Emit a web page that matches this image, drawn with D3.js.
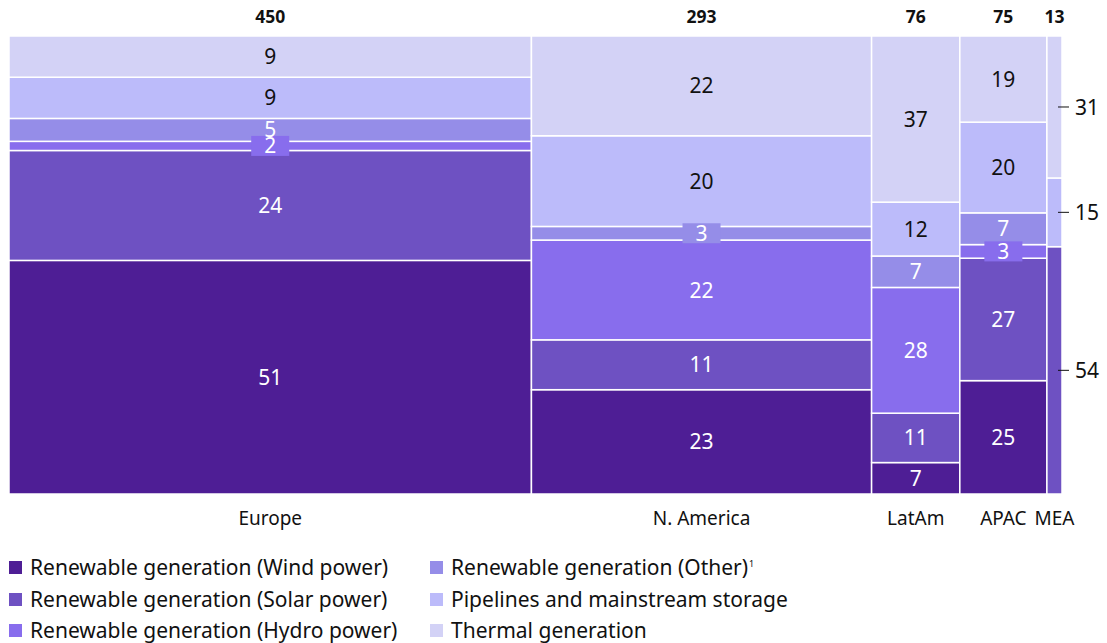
<!DOCTYPE html>
<html>
<head>
<meta charset="utf-8">
<script src="https://cdn.jsdelivr.net/npm/d3@7"></script>
<style>
  body { margin: 0; background: #fff; font-family: "Noto Sans", "Open Sans", sans-serif; }
</style>
</head>
<body>
<script>
var regions = ["Europe", "N. America", "LatAm", "APAC", "MEA"];
var totals = [450, 293, 76, 75, 13];
var seriesNames = [
  "Renewable generation (Wind power)",
  "Renewable generation (Solar power)",
  "Renewable generation (Hydro power)",
  "Renewable generation (Other)",
  "Pipelines and mainstream storage",
  "Thermal generation"
];
var wind      = [51, 23, 7, 25, 0];
var solar     = [24, 11, 11, 27, 54];
var hydro     = [2, 22, 28, 3, 0];
var other     = [5, 3, 7, 7, 0];
var pipelines = [9, 20, 12, 20, 15];
var thermal   = [9, 22, 37, 19, 31];
var colors = ["#4e1e95", "#6e51c2", "#886ded", "#958de8", "#bcbbfa", "#d3d2f6"];
var darkText = [false, false, false, false, true, true];

var allSeries = [wind, solar, hydro, other, pipelines, thermal];

var width = 1107, height = 643;
var svg = d3.select("body").append("svg")
  .attr("width", width)
  .attr("height", height);

var plotLeft = 9, plotRight = 1062, plotTop = 36, plotBottom = 494;

// column positions
var cum = d3.cumsum(totals);
var x = d3.scaleLinear().domain([0, d3.sum(totals)]).range([plotLeft, plotRight]);
var y = d3.scaleLinear().domain([0, 1]).range([plotBottom, plotTop]);

var cols = regions.map(function(r, i) {
  var colSum = d3.sum(allSeries, function(s) { return s[i]; });
  var acc = 0;
  var segs = allSeries.map(function(s, k) {
    var seg = { k: k, v: s[i], y0: acc / colSum, y1: (acc + s[i]) / colSum };
    acc += s[i];
    return seg;
  });
  return { name: r, total: totals[i], x0: cum[i] - totals[i], x1: cum[i], segs: segs };
});

var g = svg.append("g");

var col = g.selectAll("g.col").data(cols).enter().append("g").attr("class", "col");

col.selectAll("rect").data(function(d) {
    return d.segs.filter(function(s) { return s.v > 0; }).map(function(s) { s.col = d; return s; });
  })
  .enter().append("rect")
  .attr("x", function(d) { return x(d.col.x0); })
  .attr("width", function(d) { return x(d.col.x1) - x(d.col.x0); })
  .attr("y", function(d) { return y(d.y1); })
  .attr("height", function(d) { return y(d.y0) - y(d.y1); })
  .attr("fill", function(d) { return colors[d.k]; })
  .attr("stroke", "#fff")
  .attr("stroke-width", 1.5);

// segment labels (inside, except MEA)
cols.forEach(function(c, i) {
  var cx = (x(c.x0) + x(c.x1)) / 2;
  c.segs.forEach(function(s) {
    if (s.v <= 0) return;
    var cy = (y(s.y0) + y(s.y1)) / 2;
    if (c.name === "MEA") {
      g.append("line")
        .attr("x1", x(c.x1) - 4).attr("x2", x(c.x1) + 7)
        .attr("y1", cy).attr("y2", cy)
        .attr("stroke", "#111").attr("stroke-width", 1);
      g.append("text")
        .attr("x", x(c.x1) + 13).attr("y", cy)
        .attr("dy", "0.36em")
        .attr("font-size", 21)
        .attr("fill", "#111")
        .text(s.v);
      return;
    }
    if (s.v < 4) {
      g.append("rect")
        .attr("x", cx - 19).attr("y", cy - 10)
        .attr("width", 38).attr("height", 20)
        .attr("fill", colors[s.k]);
    }
    g.append("text")
      .attr("x", cx).attr("y", cy)
      .attr("dy", "0.36em")
      .attr("text-anchor", "middle")
      .attr("font-size", 21)
      .attr("fill", darkText[s.k] ? "#111" : "#fff")
      .text(s.v);
  });

  // totals on top
  g.append("text")
    .attr("x", cx).attr("y", 17)
    .attr("dy", "0.36em")
    .attr("text-anchor", "middle")
    .attr("font-size", 17.5)
    .attr("font-weight", "bold")
    .attr("fill", "#111")
    .text(c.total);

  // region names
  g.append("text")
    .attr("x", cx).attr("y", 518)
    .attr("dy", "0.36em")
    .attr("text-anchor", "middle")
    .attr("font-size", 19)
    .attr("fill", "#111")
    .text(c.name);
});

// legend
var legend = svg.append("g");
var legItems = legend.selectAll("g").data(seriesNames).enter().append("g")
  .attr("transform", function(d, i) {
    var cx = i < 3 ? 9 : 430;
    var cy = [568, 600, 631][i % 3];
    return "translate(" + cx + "," + cy + ")";
  });
legItems.append("rect")
  .attr("x", 0).attr("y", -7)
  .attr("width", 13).attr("height", 13)
  .attr("fill", function(d, i) { return colors[i]; });
var lt = legItems.append("text")
  .attr("x", 21).attr("y", 0)
  .attr("dy", "0.34em")
  .attr("font-size", 21)
  .attr("fill", "#111")
  .text(function(d) { return d; });
lt.filter(function(d, i) { return i === 3; })
  .append("tspan")
  .attr("font-size", 9)
  .attr("dy", "-0.9em")
  .attr("dx", "1")
  .text("1");
</script>
</body>
</html>
